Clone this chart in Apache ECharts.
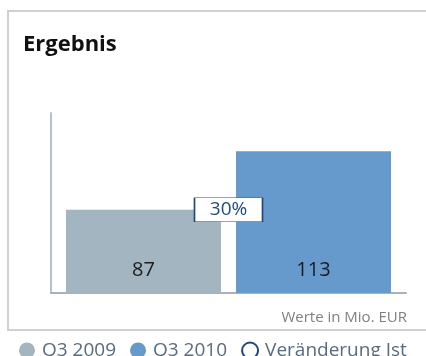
<!DOCTYPE html>
<html>
<head>
<meta charset="utf-8">
<script src="https://cdn.jsdelivr.net/npm/echarts@6/dist/echarts.min.js"></script>
<style>
  html, body { margin: 0; padding: 0; background: #fff; }
  #chart { width: 426px; height: 356px; }
</style>
</head>
<body>
<div id="chart"></div>
<script>
// Quarterly result, values in million EUR
const categories = ['Ergebnis'];
const seriesNames = ['Q3 2009', 'Q3 2010', 'Veränderung Ist'];
const valuesQ3_2009 = [87];
const valuesQ3_2010 = [113];
const axisRange = [50, 130];

const FONT = '"Open Sans", "Noto Sans", sans-serif';
const COLOR_2009 = '#a2b5c1';
const COLOR_2010 = '#6699cc';
const COLOR_CHANGE = '#22467f';

// Relative change between the two quarters, shown in the box between the bars
const changePct = Math.round((valuesQ3_2010[0] - valuesQ3_2009[0]) / valuesQ3_2009[0] * 100);

const chart = echarts.init(document.getElementById('chart'), null, { renderer: 'canvas' });

const barLabel = {
  show: true,
  position: 'insideBottom',
  distance: 13,
  fontFamily: FONT,
  fontSize: 20,
  color: '#1b1b1b'
};

chart.setOption({
  animation: false,
  backgroundColor: '#fff',
  title: {
    text: 'Ergebnis',
    left: 18,
    top: 29,
    textStyle: { fontFamily: FONT, fontSize: 22, fontWeight: 'bold', color: '#111' }
  },
  graphic: [
    {
      // panel frame, open towards the right edge
      type: 'polyline',
      shape: { points: [[430, 11], [8, 11], [8, 330], [430, 330]] },
      style: { fill: 'none', stroke: '#d0d0d0', lineWidth: 2 },
      z: -1
    },
    {
      type: 'text',
      right: 19,
      top: 310,
      style: { text: 'Werte in Mio. EUR', fontFamily: FONT, fontSize: 15, fill: '#808080' }
    }
  ],
  legend: {
    left: 14,
    top: 336,
    icon: 'circle',
    itemWidth: 16,
    itemHeight: 16,
    itemGap: 14,
    textStyle: { fontFamily: FONT, fontSize: 19, color: '#5a6b7c', padding: [0, 0, 0, 2] },
    data: [
      { name: seriesNames[0] },
      { name: seriesNames[1] },
      { name: seriesNames[2], itemStyle: { color: '#fff', borderColor: COLOR_CHANGE, borderWidth: 2, opacity: 1 } }
    ]
  },
  grid: { left: 51, right: 20, top: 113, bottom: 63 },
  xAxis: {
    type: 'category',
    data: categories,
    axisLine: { show: true, lineStyle: { color: '#a8b2bc', width: 2 } },
    axisTick: { show: false },
    axisLabel: { show: false }
  },
  yAxis: {
    type: 'value',
    min: axisRange[0],
    max: axisRange[1],
    axisLine: { show: true, lineStyle: { color: '#b8c0c8', width: 2 } },
    axisTick: { show: false },
    axisLabel: { show: false },
    splitLine: { show: false }
  },
  series: [
    {
      name: seriesNames[0],
      type: 'bar',
      data: valuesQ3_2009,
      barWidth: 155,
      barGap: '9.7%',
      itemStyle: { color: COLOR_2009 },
      label: barLabel,
      emphasis: { disabled: true }
    },
    {
      name: seriesNames[1],
      type: 'bar',
      data: valuesQ3_2010,
      barWidth: 155,
      itemStyle: { color: COLOR_2010 },
      label: barLabel,
      emphasis: { disabled: true }
    },
    {
      name: seriesNames[2],
      type: 'scatter',
      data: valuesQ3_2009,
      symbol: 'rect',
      symbolSize: [68, 24],
      itemStyle: { color: '#fff', borderColor: COLOR_CHANGE, borderWidth: 1, opacity: 1 },
      label: {
        show: true,
        position: 'inside',
        formatter: changePct + '%',
        fontFamily: FONT,
        fontSize: 19,
        color: '#1f4a86'
      },
      emphasis: { disabled: true },
      z: 5
    }
  ]
});
</script>
</body>
</html>
